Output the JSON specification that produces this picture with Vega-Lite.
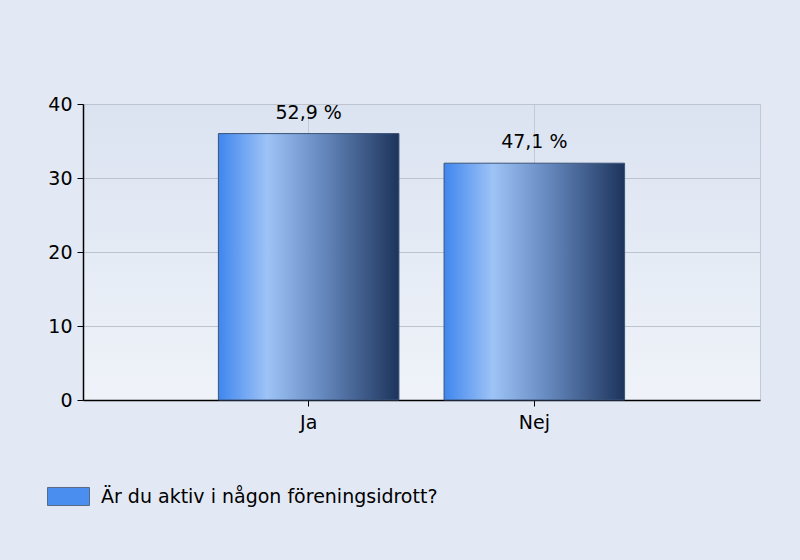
{
  "$schema": "https://vega.github.io/schema/vega-lite/v6.json",
  "width": 677,
  "height": 296,
  "autosize": {"type": "none"},
  "padding": {"left": 83, "top": 104, "right": 40, "bottom": 160},
  "background": "#e3e9f4",
  "config": {
    "font": "DejaVu Sans",
    "view": {
      "stroke": "#c3cad6",
      "strokeWidth": 1,
      "fill": {
        "gradient": "linear",
        "x1": 0, "y1": 0, "x2": 0, "y2": 1,
        "stops": [
          {"offset": 0, "color": "#dbe3f1"},
          {"offset": 1, "color": "#eff3f9"}
        ]
      }
    }
  },
  "data": {
    "values": [
      {"svar": "Ja", "antal": 36, "andel": "52,9 %", "serie": "Är du aktiv i någon föreningsidrott?"},
      {"svar": "Nej", "antal": 32, "andel": "47,1 %", "serie": "Är du aktiv i någon föreningsidrott?"}
    ]
  },
  "encoding": {
    "x": {
      "field": "svar",
      "type": "nominal",
      "sort": ["Ja", "Nej"],
      "scale": {"paddingInner": 0.2, "paddingOuter": 0.6},
      "axis": {
        "title": null,
        "labelAngle": 0,
        "labelFontSize": 19,
        "labelColor": "#000000",
        "labelPadding": 7,
        "domainColor": "#000000",
        "domainWidth": 1.5,
        "tickColor": "#000000",
        "tickSize": 6,
        "grid": true,
        "gridColor": "#c3cad6",
        "gridWidth": 1
      }
    },
    "y": {
      "field": "antal",
      "type": "quantitative",
      "scale": {"domain": [0, 40], "nice": false},
      "axis": {
        "title": null,
        "values": [0, 10, 20, 30, 40],
        "labelFontSize": 19,
        "labelColor": "#000000",
        "labelPadding": 5,
        "domainColor": "#000000",
        "domainWidth": 1.5,
        "tickColor": "#000000",
        "tickSize": 6,
        "gridColor": "#bcc4d0",
        "gridWidth": 1
      }
    }
  },
  "layer": [
    {
      "mark": {
        "type": "bar",
        "stroke": "#3b5377",
        "strokeWidth": 1,
        "fill": {
          "gradient": "linear",
          "x1": 0, "y1": 0, "x2": 1, "y2": 0,
          "stops": [
            {"offset": 0, "color": "#3f86ee"},
            {"offset": 0.27, "color": "#9ec3f6"},
            {"offset": 0.55, "color": "#6a8ec4"},
            {"offset": 1, "color": "#1d345c"}
          ]
        }
      }
    },
    {
      "mark": {
        "type": "square",
        "size": 0,
        "filled": true,
        "color": "#4a8ef0",
        "stroke": "#5a6a80",
        "strokeWidth": 1,
        "opacity": 1
      },
      "encoding": {
        "opacity": {
          "field": "serie",
          "type": "nominal",
          "scale": {"range": [0]},
          "legend": {
            "title": null,
            "orient": "none",
            "legendX": -36,
            "legendY": 371,
            "symbolType": "M-1,-0.43H1V0.43H-1Z",
            "symbolSize": 1764,
            "symbolStrokeWidth": 1,
            "symbolOpacity": 1,
            "labelFontSize": 19,
            "labelColor": "#000000",
            "labelOffset": 11,
            "labelLimit": 700,
            "padding": 0,
            "encode": {
              "symbols": {
                "update": {
                  "fill": {"value": "#4a8ef0"},
                  "stroke": {"value": "#5a6a80"},
                  "opacity": {"value": 1},
                  "fillOpacity": {"value": 1},
                  "strokeOpacity": {"value": 1},
                  "size": {"value": 1764}
                }
              }
            }
          }
        }
      }
    },
    {
      "mark": {
        "type": "text",
        "fontSize": 19,
        "color": "#000000",
        "baseline": "alphabetic",
        "dy": -15
      },
      "encoding": {
        "text": {"field": "andel"}
      }
    }
  ]
}
